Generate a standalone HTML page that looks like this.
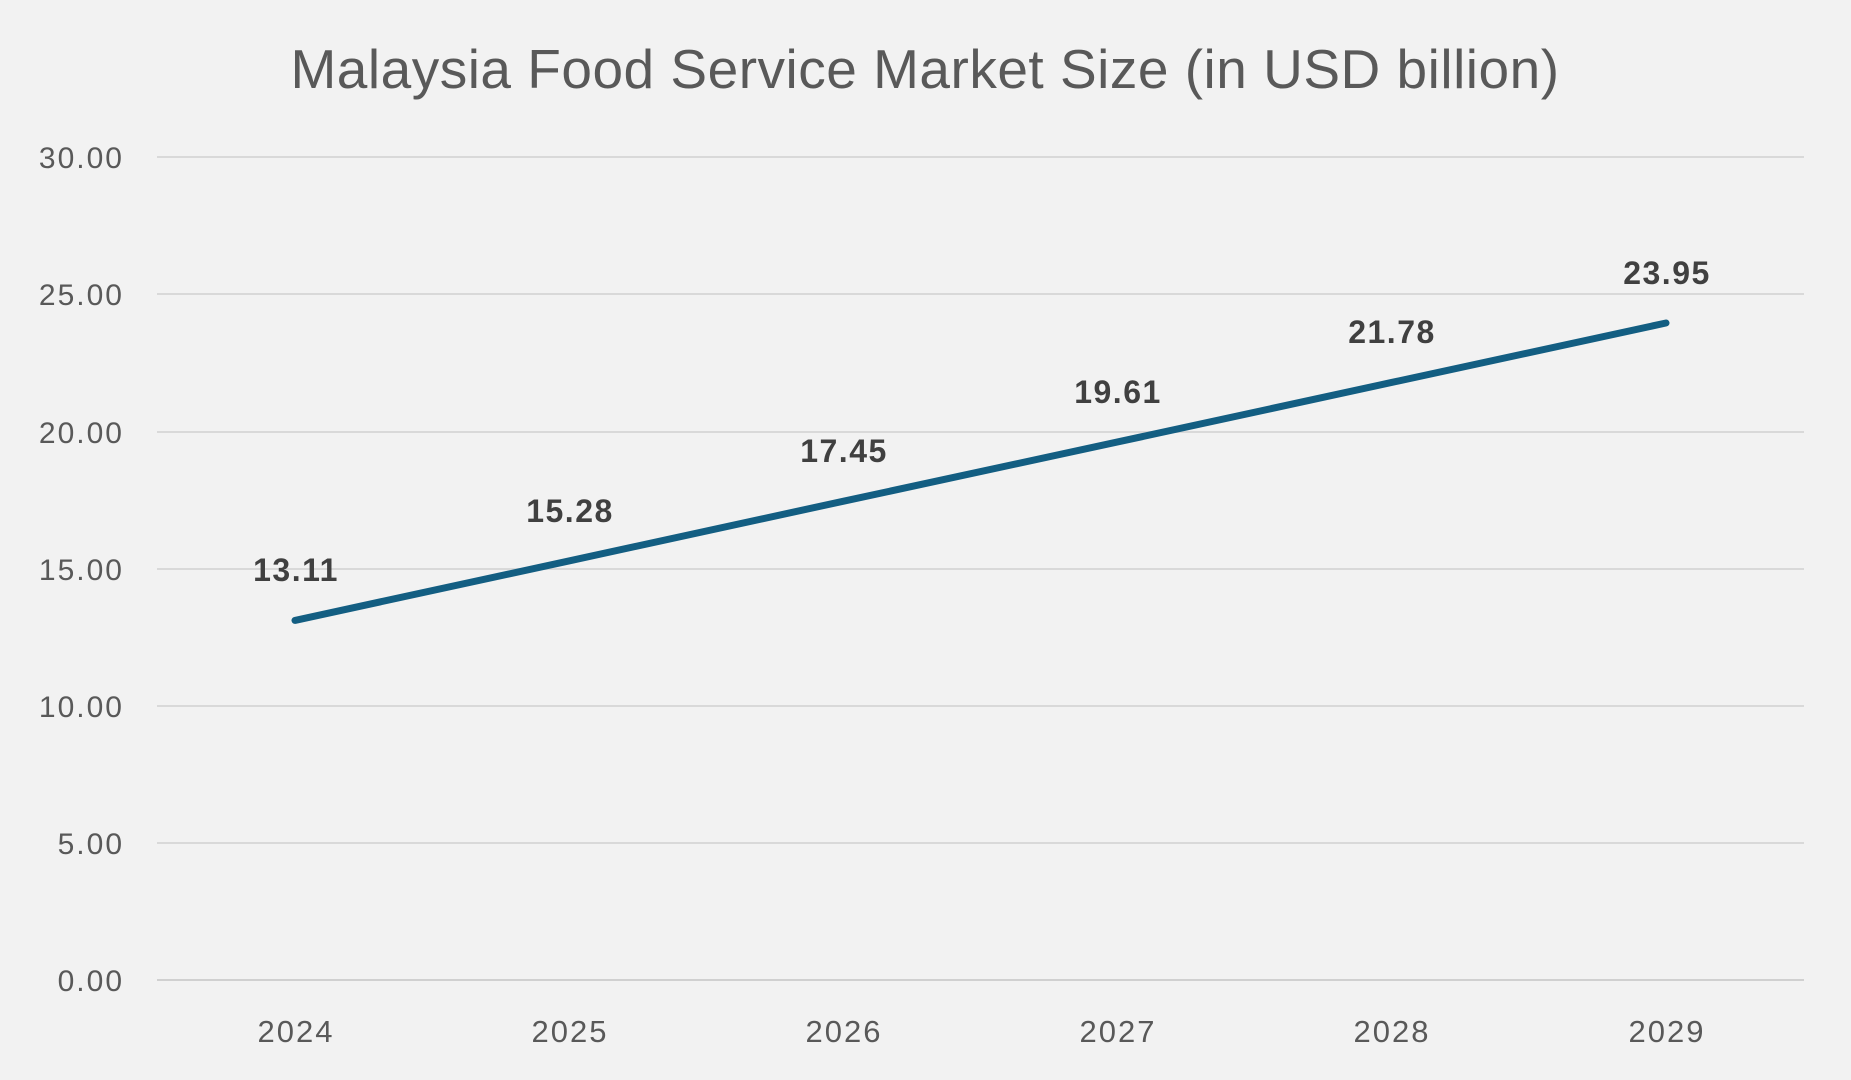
<!DOCTYPE html>
<html><head><meta charset="utf-8"><style>
html,body{margin:0;padding:0;background:#f2f2f2;}
svg{display:block}
</style></head><body>
<svg width="1851" height="1080" viewBox="0 0 1851 1080" xmlns="http://www.w3.org/2000/svg">
<rect width="1851" height="1080" fill="#f2f2f2"/>
<text x="925" y="88" text-anchor="middle" font-family="Liberation Sans, sans-serif" font-size="55" letter-spacing="0.5" fill="#595959">Malaysia Food Service Market Size (in USD billion)</text>
<g stroke="#d9d9d9" stroke-width="2">
<line x1="157" x2="1804" y1="157" y2="157"/>
<line x1="157" x2="1804" y1="294" y2="294"/>
<line x1="157" x2="1804" y1="432" y2="432"/>
<line x1="157" x2="1804" y1="569" y2="569"/>
<line x1="157" x2="1804" y1="706" y2="706"/>
<line x1="157" x2="1804" y1="843" y2="843"/>
</g>
<line x1="157" x2="1804" y1="980" y2="980" stroke="#d0d0d0" stroke-width="2"/>
<g font-family="Liberation Sans, sans-serif" font-size="30" letter-spacing="2" fill="#595959" text-anchor="end">
<text x="124" y="168">30.00</text>
<text x="124" y="305">25.00</text>
<text x="124" y="443">20.00</text>
<text x="124" y="580">15.00</text>
<text x="124" y="717">10.00</text>
<text x="124" y="854">5.00</text>
<text x="124" y="991">0.00</text>
</g>
<g font-family="Liberation Sans, sans-serif" font-size="31" letter-spacing="2" fill="#595959" text-anchor="middle">
<text x="296" y="1042">2024</text>
<text x="570" y="1042">2025</text>
<text x="844" y="1042">2026</text>
<text x="1118" y="1042">2027</text>
<text x="1392" y="1042">2028</text>
<text x="1667" y="1042">2029</text>
</g>
<polyline fill="none" stroke="#135e82" stroke-width="7" stroke-linecap="round" stroke-linejoin="round"
points="295,620.4 569,560.9 843,501.3 1117,442.1 1391,382.6 1666,323"/>
<g font-family="Liberation Sans, sans-serif" font-size="32" font-weight="bold" letter-spacing="1.5" fill="#404040" text-anchor="middle">
<text x="296" y="581">13.11</text>
<text x="570" y="522">15.28</text>
<text x="844" y="462">17.45</text>
<text x="1118" y="403">19.61</text>
<text x="1392" y="343">21.78</text>
<text x="1667" y="284">23.95</text>
</g>
</svg>
</body></html>
